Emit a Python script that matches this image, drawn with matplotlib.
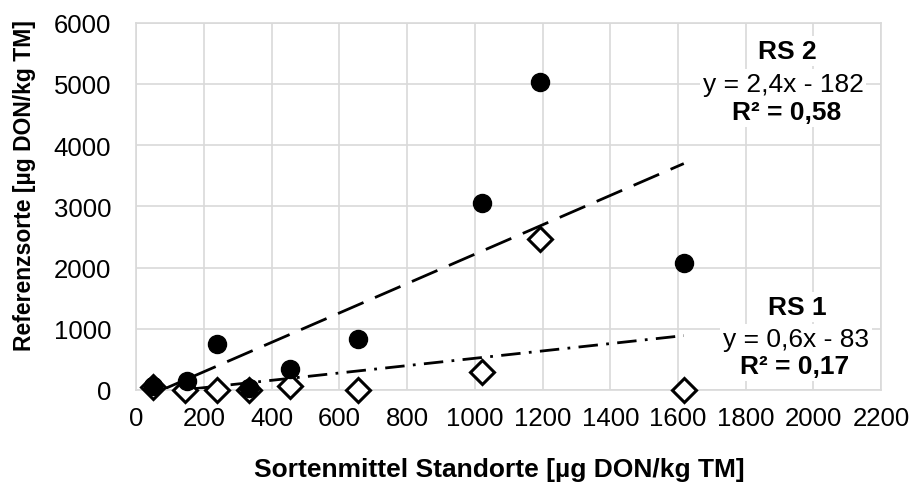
import matplotlib.pyplot as plt

plt.rcParams['font.family'] = ['Liberation Sans', 'DejaVu Sans']
plt.rcParams['lines.scale_dashes'] = False

# === Daten ===
# RS 2 (gefüllte Kreise)
rs2_x = [50, 150, 238, 332, 453, 655, 1020, 1192, 1617]
rs2_y = [60, 150, 750, 30, 343, 833, 3055, 5033, 2075]
# RS 1 (offene Rauten)
rs1_x = [50, 143, 238, 332, 453, 655, 1020, 1192, 1617]
rs1_y = [50, 0, 0, 0, 60, 0, 300, 2467, 0]

# Trendlinien (lineare Regression, wie im Diagramm angegeben)
rs2_fit = (2.4, -182)
rs1_fit = (0.6, -83)

x_ticks = list(range(0, 2201, 200))
y_ticks = list(range(0, 6001, 1000))

# === Plot ===
fig = plt.figure(figsize=(9.15, 4.85), dpi=100)
ax = fig.add_axes([0.149, 0.194, 0.814, 0.757])

# Trendlinien
x_line = [min(rs2_x), max(rs2_x)]
ax.plot(x_line, [rs2_fit[0] * x + rs2_fit[1] for x in x_line],
        color='black', lw=2.0, dashes=(20, 9), zorder=2)
x_line = [min(rs1_x), max(rs1_x)]
ax.plot(x_line, [rs1_fit[0] * x + rs1_fit[1] for x in x_line],
        color='black', lw=2.0, dashes=(14, 6, 2, 6), zorder=2)

# Punkte
ax.plot(rs1_x, rs1_y, 'D', ms=12, mfc='white', mec='black', mew=2.2,
        ls='none', zorder=3, clip_on=False)
ax.plot(rs2_x, rs2_y, 'o', ms=13, mfc='black', mec='black',
        ls='none', zorder=4, clip_on=False)

# Achsen
ax.set_xlim(0, 2200)
ax.set_ylim(0, 6000)
ax.set_xticks(x_ticks)
ax.set_yticks(y_ticks)
ax.tick_params(length=0, labelsize=18.5)
ax.tick_params(axis='x', pad=11.5)
ax.tick_params(axis='y', pad=18)
ax.grid(True, color='#d9d9d9', lw=1.2, zorder=0)
for s in ax.spines.values():
    s.set_color('#d9d9d9')
    s.set_linewidth(1.2)

ax.set_xlabel('Sortenmittel Standorte [µg DON/kg TM]', fontsize=19, fontweight='bold')
ax.set_ylabel('Referenzsorte [µg DON/kg TM]', fontsize=16.5, fontweight='bold')
ax.xaxis.set_label_coords(0.488, -0.182)
ax.yaxis.set_label_coords(-0.135, 0.56)

# Trendlinien-Beschriftungen
box = dict(facecolor='white', edgecolor='none', pad=2)
fs = 19
ax.text(1923, 5540, 'RS 2', fontsize=fs, fontweight='bold', ha='center', va='center', bbox=box)
ax.text(1910, 5000, 'y = 2,4x - 182', fontsize=fs, ha='center', va='center', bbox=box)
ax.text(1922, 4540, 'R² = 0,58', fontsize=fs, fontweight='bold', ha='center', va='center', bbox=box)

ax.text(1951, 1360, 'RS 1', fontsize=fs, fontweight='bold', ha='center', va='center', bbox=box)
ax.text(1948, 840, 'y = 0,6x - 83', fontsize=fs, ha='center', va='center', bbox=box)
ax.text(1945, 390, 'R² = 0,17', fontsize=fs, fontweight='bold', ha='center', va='center', bbox=box)

fig.savefig('out.png', dpi=100)
